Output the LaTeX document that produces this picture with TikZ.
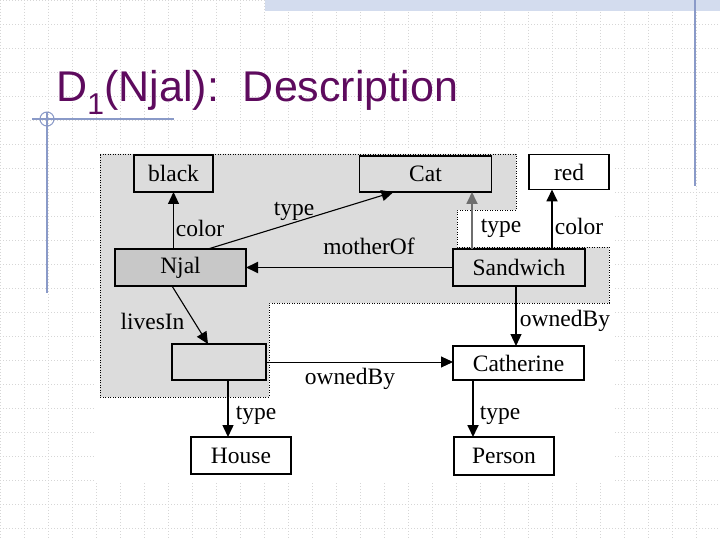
\documentclass[tikz,border=0pt]{standalone}
\usepackage{fontspec}
\setmainfont{Liberation Serif}
\newfontfamily\titlefont{Liberation Sans}
\usetikzlibrary{arrows.meta, positioning}
\definecolor{titlepurple}{HTML}{5E0B5E}
\definecolor{regiongray}{HTML}{DCDCDC}
\definecolor{focusgray}{HTML}{C8C8C8}
\definecolor{rulesblue}{HTML}{8A9AC8}
\definecolor{bandblue}{HTML}{D3DCEE}
\definecolor{griddot}{HTML}{D6D6D6}
\definecolor{typegray}{HTML}{6E6E6E}

\begin{document}
\begin{tikzpicture}[
    x=1pt, y=-1pt,
    resbox/.style={draw, line width=1.2pt, inner sep=0pt, outer sep=0pt, font=\fontsize{23.5}{26}\selectfont},
    thickbox/.style={resbox, line width=1.9pt},
    lbl/.style={inner sep=0pt, font=\fontsize{23.5}{26}\selectfont},
    arrow/.style={-{Triangle[length=12pt, width=11pt]}, line width=1.3pt},
    gridline/.style={griddot, line width=0.8pt, dash pattern=on 1pt off 2pt},
    region/.style={fill=regiongray, draw=black, line width=0.8pt, dash pattern=on 1pt off 1.5pt},
]
    % Slide background
    \useasboundingbox (0,0) rectangle (720,540);
    \fill[white] (0,0) rectangle (720,540);
    \foreach \g in {0,24,...,720} \draw[gridline] (\g,0) -- (\g,540);
    \foreach \g in {0,24,...,540} \draw[gridline] (0,\g) -- (720,\g);
    \fill[bandblue] (265,0) rectangle (720,11);
    \draw[rulesblue, line width=1.2pt] (695,0) -- (695,186);
    \draw[rulesblue, line width=1.2pt] (32,119) -- (174,119);
    \draw[rulesblue, line width=1.2pt] (47,112) -- (47,293);
    \draw[rulesblue, line width=1pt] (47,119) circle[radius=7];

    % Title
    \node[anchor=base west, inner sep=0pt, text=titlepurple, font=\titlefont\fontsize{43}{48}\selectfont] (title) at (56,102) {D\textsubscript{1}(Njal):\ \ Description};

    % Description region
    \fill[white] (96,148) rectangle (614,481);
    \draw[region] (100,154) -- (516,154) -- (516,210) -- (457,210) -- (457,247) -- (609,247) -- (609,303) -- (269,303) -- (269,397) -- (100,397) -- cycle;

    % Resources
    \node[resbox, minimum width=79pt, minimum height=37pt] (black) at (173.5,173.5) {black};
    \node[thickbox, minimum width=132pt, minimum height=36pt] (Cat) at (425.5,174) {Cat};
    \node[thickbox, fill=white, minimum width=80pt, minimum height=35pt] (red) at (569,172) {red};
    \node[resbox, fill=focusgray, minimum width=131pt, minimum height=37pt] (Njal) at (180.5,267.5) {Njal};
    \node[thickbox, minimum width=132pt, minimum height=37pt] (Sandwich) at (519,267.5) {Sandwich};
    \node[thickbox, minimum width=94pt, minimum height=36pt] (dwelling) at (219,362) {};
    \node[thickbox, fill=white, minimum width=131pt, minimum height=34pt] (Catherine) at (518.5,363) {Catherine};
    \node[thickbox, fill=white, minimum width=100pt, minimum height=37pt] (House) at (241,455.5) {House};
    \node[thickbox, fill=white, minimum width=100pt, minimum height=38pt] (Person) at (504,456) {Person};

    % Properties
    \draw[arrow, line width=1.1pt] (Njal.north -| black.south) -- (black.south);
    \draw[arrow, line width=1.1pt] ([xshift=27.5pt]Njal.north) -- ([xshift=34pt]Cat.south west);
    \draw[arrow, line width=1.1pt] ([xshift=-8.5pt]Njal.south) -- ([xshift=-11pt]dwelling.north);
    \draw[arrow, line width=1.8pt] (Sandwich.west) -- (Njal.east);
    \coordinate (sc) at ([xshift=-47pt]Sandwich.north);
    \draw[arrow, typegray, line width=1.8pt] (sc) -- (sc |- Cat.south);
    \coordinate (sr) at ([xshift=-17pt]red.south);
    \draw[arrow, line width=1.8pt] (sr |- Sandwich.north) -- (sr);
    \draw[arrow, line width=1.1pt] ([xshift=-3pt]Sandwich.south) -- ([xshift=-2.5pt]Catherine.north);
    \draw[arrow, line width=1pt] (dwelling.east) -- (dwelling.east -| Catherine.west);
    \draw[arrow, line width=1.5pt] ([xshift=9pt]dwelling.south) -- ([xshift=-13pt]House.north);
    \draw[arrow, line width=1.8pt] ([xshift=-45.5pt]Catherine.south) -- ([xshift=-31pt]Person.north);

    % Labels
    \node[lbl] (colorNjal) at (200,228) {color};
    \node[lbl] (typeNjal) at (294,211) {type};
    \node[lbl] (motherOf) at (369,246) {motherOf};
    \node[lbl] (livesIn) at (152.5,321) {livesIn};
    \node[lbl] (typeSand) at (501,228) {type};
    \node[lbl] (colorSand) at (579,226) {color};
    \node[lbl] (ownedSand) at (565,321) {ownedBy};
    \node[lbl] (ownedHome) at (350,379) {ownedBy};
    \node[lbl] (typeHome) at (256,415) {type};
    \node[lbl] (typeCath) at (500,415) {type};
\end{tikzpicture}
\end{document}
